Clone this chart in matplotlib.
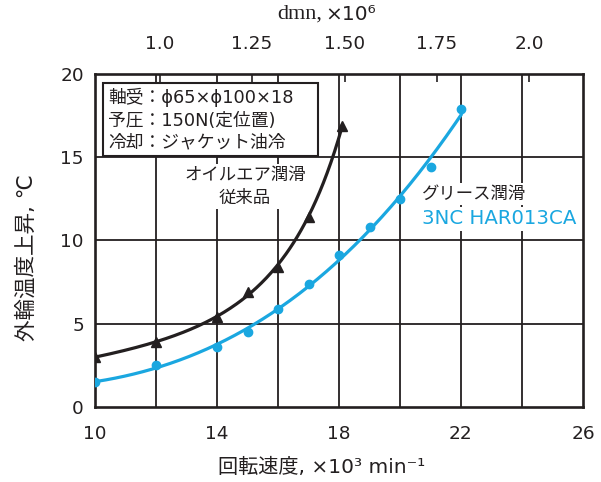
import numpy as np
import matplotlib
matplotlib.use("Agg")
import matplotlib.pyplot as plt
from matplotlib.patches import Rectangle

plt.rcParams['font.family'] = ['DejaVu Sans', 'Noto Sans CJK JP']

# Oil-air lubrication (conventional bearing)
oil_speed = [10, 12, 14, 15, 16, 17, 18.1]
oil_temp = [3.0, 3.9, 5.4, 6.9, 8.4, 11.4, 16.9]

# Grease lubrication (3NC HAR013CA)
grease_speed = [10, 12, 14, 15, 16, 17, 18, 19, 20, 21, 22]
grease_temp = [1.5, 2.5, 3.6, 4.5, 5.9, 7.4, 9.1, 10.8, 12.5, 14.4, 17.9]

# Pitch diameter (mm): (65 + 100) / 2
pitch_dia = 82.5
dmn_ticks = [1.0, 1.25, 1.5, 1.75, 2.0]
dmn_labels = ['1.0', '1.25', '1.50', '1.75', '2.0']

BLUE = '#1aa7e0'
BLACK = '#231f20'

fig = plt.figure(figsize=(6.01, 4.82), dpi=100)
ax = fig.add_axes([95/601, 1-407/482, (583-95)/601, (407-74)/482])

ax.set_xlim(10, 26)
ax.set_ylim(0, 20)
ax.set_xticks([10, 14, 18, 22, 26])
ax.set_yticks([0, 5, 10, 15, 20])
ax.tick_params(axis='both', which='both', length=0, labelsize=13.3, colors=BLACK)
ax.tick_params(axis='x', pad=13)
ax.tick_params(axis='y', pad=8)

for v in np.arange(12, 26, 2):
    ax.axvline(v, color=BLACK, lw=1.3, zorder=1)
for v in [5, 10, 15]:
    ax.axhline(v, color=BLACK, lw=1.3, zorder=1)
for s in ax.spines.values():
    s.set_linewidth(1.9)
    s.set_color(BLACK)

# Smooth trend curves fitted to the measured points
xo = np.linspace(oil_speed[0], oil_speed[-1], 200)
po = np.polyfit(oil_speed, np.log(oil_temp), 3)
ax.plot(xo, np.exp(np.polyval(po, xo)), color=BLACK, lw=2.3, zorder=3)
ax.plot(oil_speed, oil_temp, '^', color=BLACK, ms=7, zorder=4)

xg = np.linspace(grease_speed[0], grease_speed[-1], 200)
pg = np.polyfit(grease_speed, grease_temp, 3)
ax.plot(xg, np.polyval(pg, xg), color=BLUE, lw=2.3, zorder=3)
ax.plot(grease_speed, grease_temp, 'o', color=BLUE, ms=6, zorder=4)

wb = dict(facecolor='white', edgecolor='none', pad=1.5)
ax.text(14.92, 13.25, 'オイルエア潤滑\n従来品', ha='center', va='center',
        fontsize=12.5, color=BLACK, linespacing=1.3, bbox=wb, zorder=2)
ax.text(20.72, 12.77, 'グリース潤滑', ha='left', va='center',
        fontsize=12.5, color=BLACK, bbox=wb, zorder=2)
ax.text(20.72, 11.3, '3NC HAR013CA', ha='left', va='center',
        fontsize=14.2, color=BLUE, bbox=wb, zorder=2)

# Test-condition box
ax.add_patch(Rectangle((0.016, 0.754), 0.441, 0.219, transform=ax.transAxes,
                       facecolor='white', edgecolor=BLACK, lw=1.5, zorder=5))
ax.text(0.027, 0.862, '軸受：ϕ65×ϕ100×18\n予圧：150N(定位置)\n冷却：ジャケット油冷',
        transform=ax.transAxes, ha='left', va='center', fontsize=12.8,
        color=BLACK, linespacing=1.3, zorder=6)

# dmn scale along the top
sec = ax.secondary_xaxis('top', functions=(lambda n: n * pitch_dia / 1000,
                                           lambda d: d * 1000 / pitch_dia))
sec.set_xticks(dmn_ticks)
sec.set_xticklabels(dmn_labels)
sec.tick_params(direction='in', length=6, width=1.2, pad=15, labelsize=13.3, colors=BLACK)
sec.spines['top'].set_visible(False)

fig.text(322/601, 1-14/482, 'dmn,', family='Liberation Serif', fontsize=16,
         ha='right', va='center', color=BLACK)
fig.text(325/601, 1-14/482, '×10⁶', fontsize=14.5, ha='left', va='center', color=BLACK)

fig.text(322/601, 1-467/482, '回転速度, ×10³ min⁻¹', fontsize=14.5,
         ha='center', va='center', color=BLACK)
fig.text(27/601, 1-258/482, '外輪温度上昇, ℃', fontsize=15.5, rotation=90,
         ha='center', va='center', color=BLACK)

fig.savefig('out.png', dpi=100)
